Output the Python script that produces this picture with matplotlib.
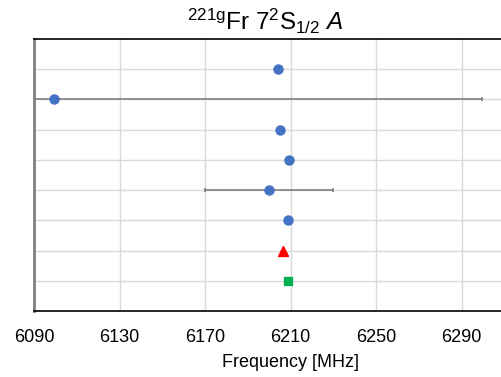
import matplotlib
matplotlib.use("Agg")
import matplotlib.pyplot as plt

plt.rcParams['font.family'] = ['Liberation Sans', 'DejaVu Sans']
plt.rcParams['mathtext.fontset'] = 'custom'
plt.rcParams['mathtext.rm'] = 'Liberation Sans'
plt.rcParams['mathtext.it'] = 'Liberation Sans:italic'

# measurements, top row first
freq = [6204.3, 6099.5, 6205.2, 6209.5, 6199.8, 6208.7]
err = [0, 200, 0, 0, 30, 0]
rows = [8, 7, 6, 5, 4, 3]
triangle_freq = [6206.6]
triangle_row = [2]
square_freq = [6208.8]
square_row = [1]

fig = plt.figure(figsize=(5.01, 3.77), dpi=100)
ax = fig.add_axes([34 / 501, 66 / 377, 513 / 501, 272 / 377])

ax.errorbar(freq, rows, xerr=err, fmt='o', color='#4472C4', ms=6.5,
            ecolor='#7f7f7f', elinewidth=1.2, capsize=1.5, capthick=1.2, zorder=3)
ax.plot(triangle_freq, triangle_row, '^', color='#FF0000', ms=6.5, zorder=3)
ax.plot(square_freq, square_row, 's', color='#00B050', ms=6, zorder=3)

ax.set_xlim(6090, 6330)
ax.set_ylim(0, 9)
ax.set_xticks([6090, 6130, 6170, 6210, 6250, 6290])
ax.set_yticks(range(1, 9))
ax.tick_params(axis='both', length=0)
ax.tick_params(axis='x', labelsize=13, pad=13)
ax.set_yticklabels([])
ax.grid(True, color='#d9d9d9', lw=1)
ax.set_axisbelow(True)

ax.spines['left'].set_color('#808080')
ax.spines['left'].set_linewidth(2)
ax.spines['top'].set_linewidth(1.2)
ax.spines['bottom'].set_linewidth(1.2)
ax.spines['right'].set_visible(False)

ax.set_xlabel('Frequency [MHz]', fontsize=13, labelpad=6)
fig.text(265 / 501, 1 - 21 / 377,
         r'$^{\mathrm{221g}}$Fr 7$^{\mathrm{2}}$S$_{\mathrm{1/2}}$ $\mathit{A}$',
         ha='center', va='center', fontsize=17.5)

fig.savefig('out.png', dpi=100)
